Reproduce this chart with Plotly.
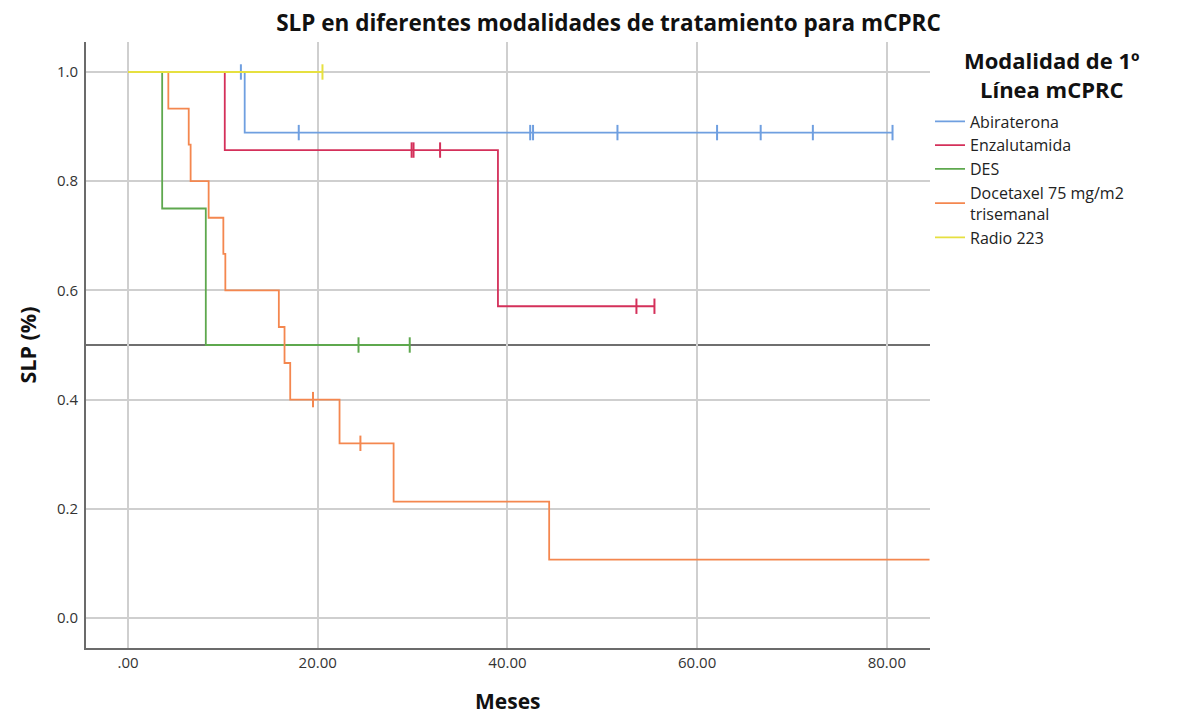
import numpy as np
import plotly.graph_objects as go

# ---- Data ----
groups = ["Abiraterona", "Enzalutamida", "DES", "Docetaxel 75 mg/m2<br>trisemanal", "Radio 223"]
colors = ["#6f9fe0", "#d4305a", "#5ea84e", "#f4874f", "#e6e040"]
legend_title = "Modalidad de 1º<br>Línea mCPRC"

abi_t = [0.0, 12.3, 80.6]
abi_s = [1.0, 0.889, 0.889]
abi_cens = [11.9, 18.0, 42.4, 42.7, 51.6, 62.1, 66.7, 72.2, 80.6]

enz_t = [0.0, 10.2, 39.0, 55.5]
enz_s = [1.0, 0.857, 0.571, 0.571]
enz_cens = [29.9, 30.1, 32.9, 53.6, 55.5]

des_t = [0.0, 3.6, 8.2, 29.7]
des_s = [1.0, 0.75, 0.5, 0.5]
des_cens = [24.3, 29.7]

doc_t = [0.0, 4.25, 6.4, 6.6, 8.5, 10.05, 10.26, 15.9, 16.5, 17.1, 22.3, 28.0, 44.4, 84.5]
doc_s = [1.0, 0.933, 0.867, 0.800, 0.733, 0.667, 0.600, 0.533, 0.467, 0.400, 0.320, 0.213, 0.107, 0.107]
doc_cens = [19.5, 24.5]

rad_t = [0.0, 20.5]
rad_s = [1.0, 1.0]
rad_cens = [20.5]

series_t = [abi_t, enz_t, des_t, doc_t, rad_t]
series_s = [abi_s, enz_s, des_s, doc_s, rad_s]
series_c = [abi_cens, enz_cens, des_cens, doc_cens, rad_cens]

x_ticks = [0, 20, 40, 60, 80]
x_ticktext = [".00", "20.00", "40.00", "60.00", "80.00"]
y_ticks = [0.0, 0.2, 0.4, 0.6, 0.8, 1.0]
ref_level = 0.5


def step_value(t_list, s_list, t):
    idx = np.searchsorted(np.array(t_list), t, side="right") - 1
    return s_list[max(idx, 0)]


fig = go.Figure()

# reference line at median
fig.add_hline(y=ref_level, line=dict(color="#3f3f3f", width=1.6), layer="below")

for name, col, t, s, c in zip(groups, colors, series_t, series_s, series_c):
    fig.add_trace(go.Scatter(
        x=t, y=s, mode="lines", line=dict(color=col, width=1.8, shape="hv"),
        name=name, legendgroup=name, showlegend=True,
    ))
    fig.add_trace(go.Scatter(
        x=c, y=[step_value(t, s, ci) for ci in c], mode="markers",
        marker=dict(symbol="line-ns", size=11, line=dict(color=col, width=2)),
        legendgroup=name, showlegend=False, hoverinfo="skip",
    ))

# legend heading (centred bold, two lines)
fig.add_annotation(
    text="<b>" + legend_title + "</b>", xref="paper", yref="paper",
    x=1.1445, y=0.946, xanchor="center", yanchor="middle", showarrow=False,
    font=dict(size=22, color="#111"),
)

# x-axis title placed below the tick labels
fig.add_annotation(
    text="<b>Meses</b>", xref="paper", yref="paper",
    x=0.5, y=-0.087, xanchor="center", yanchor="middle", showarrow=False,
    font=dict(size=21, color="#111"),
)

fig.update_layout(
    width=1177, height=717,
    margin=dict(l=86, r=247, t=42, b=69),
    paper_bgcolor="white", plot_bgcolor="white",
    font=dict(family="Open Sans, DejaVu Sans, sans-serif", color="#222"),
    title=dict(
        text="<b>SLP en diferentes modalidades de tratamiento para mCPRC</b>",
        x=0.517, xanchor="center", y=0.968, yanchor="middle",
        font=dict(size=22.5, color="#111", family="Open Sans, sans-serif"),
    ),
    legend=dict(
        x=1.0, xanchor="left", y=0.897, yanchor="top",
        font=dict(size=16, color="#222"),
        bgcolor="rgba(0,0,0,0)", itemwidth=30, tracegroupgap=0,
    ),
    showlegend=True,
)

fig.update_xaxes(
    range=[-4.43, 84.55], tickvals=x_ticks, ticktext=x_ticktext,
    showgrid=True, gridcolor="#cfcfcf", gridwidth=1.5,
    zeroline=False, showline=True, linecolor="#6b6b6b", linewidth=2,
    ticks="", tickfont=dict(size=15, color="#333"), automargin=False,
)
fig.update_yaxes(
    range=[-0.0549, 1.0549], tickvals=y_ticks, tickformat=".1f",
    showgrid=True, gridcolor="#cfcfcf", gridwidth=1.5,
    zeroline=False, showline=True, linecolor="#6b6b6b", linewidth=2,
    ticks="", tickfont=dict(size=15, color="#333"), ticklabelstandoff=3,
    title=dict(text="<b>SLP (%)</b>", font=dict(size=21.5, color="#111"), standoff=14),
)

fig.write_html("out.html")
